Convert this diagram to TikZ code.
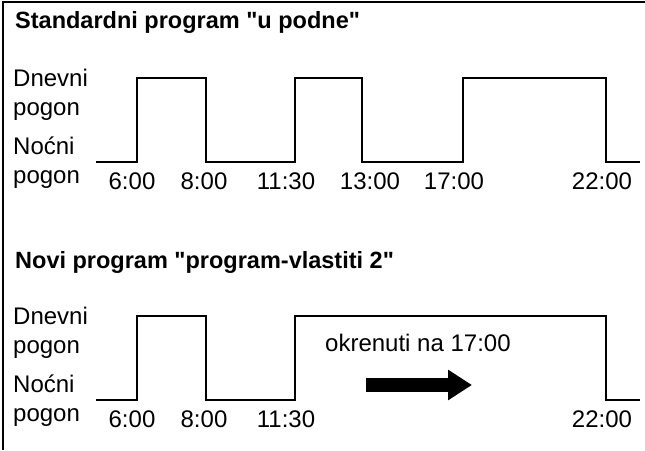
\documentclass[tikz,border=0pt]{standalone}
\usepackage{fontspec}
\setmainfont{Liberation Sans}
\usetikzlibrary{arrows.meta, positioning}

\begin{document}
\begin{tikzpicture}[
    x=1pt, y=-1pt,
    heading/.style={anchor=base west, inner sep=0pt, font=\fontsize{23.5}{27}\selectfont\bfseries},
    levelname/.style={anchor=base west, inner sep=0pt, font=\fontsize{24}{28}\selectfont},
    clock/.style={anchor=base, inner sep=0pt, font=\fontsize{24}{28}\selectfont},
    wave/.style={line width=1.3pt, line join=miter},
    movearrow/.style={line width=14pt, -{Triangle[length=24pt, width=29pt]}}
]
    \useasboundingbox (0,0) rectangle (645,450);

    % Frame
    \draw[line width=1.4pt] (645,2) -- (3,2) -- (3,450);

    % Standard program
    \node[heading] (head1) at (15,28) {Standardni program \textquotedbl u podne\textquotedbl};
    \node[levelname] (day1) at (13,86) {Dnevni};
    \node[levelname] (dayb1) at (13,115) {pogon};
    \node[levelname] (night1) at (13,154) {Noćni};
    \node[levelname] (nightb1) at (13,183) {pogon};
    \draw[wave] (96,162) -- (137,162) -- (137,78) -- (206,78) -- (206,162)
        -- (295,162) -- (295,78) -- (362,78) -- (362,162)
        -- (463,162) -- (463,78) -- (606,78) -- (606,162) -- (640,162);
    \node[clock] (a600) at (132,189) {6:00};
    \node[clock] (a800) at (204,189) {8:00};
    \node[clock] (a1130) at (286,189) {11:30};
    \node[clock] (a1300) at (370,189) {13:00};
    \node[clock] (a1700) at (454,189) {17:00};
    \node[clock] (a2200) at (602,189) {22:00};

    % New program
    \node[heading] (head2) at (15,268) {Novi program \textquotedbl program-vlastiti 2\textquotedbl};
    \node[levelname] (day2) at (13,324) {Dnevni};
    \node[levelname] (dayb2) at (13,353) {pogon};
    \node[levelname] (night2) at (13,392) {Noćni};
    \node[levelname] (nightb2) at (13,421) {pogon};
    \draw[wave] (96,400) -- (137,400) -- (137,316) -- (206,316) -- (206,400)
        -- (295,400) -- (295,316) -- (606,316) -- (606,400) -- (640,400);
    \node[clock] (b600) at (132,427) {6:00};
    \node[clock] (b800) at (204,427) {8:00};
    \node[clock] (b1130) at (286,427) {11:30};
    \node[clock] (b2200) at (602,427) {22:00};

    % Shift
    \node[levelname] (hint) at (325,351) {okrenuti na 17:00};
    \coordinate (shiftfrom) at (366,385);
    \coordinate (shiftto) at (472,385);
    \draw[movearrow] (shiftfrom) -- (shiftto);
\end{tikzpicture}
\end{document}
